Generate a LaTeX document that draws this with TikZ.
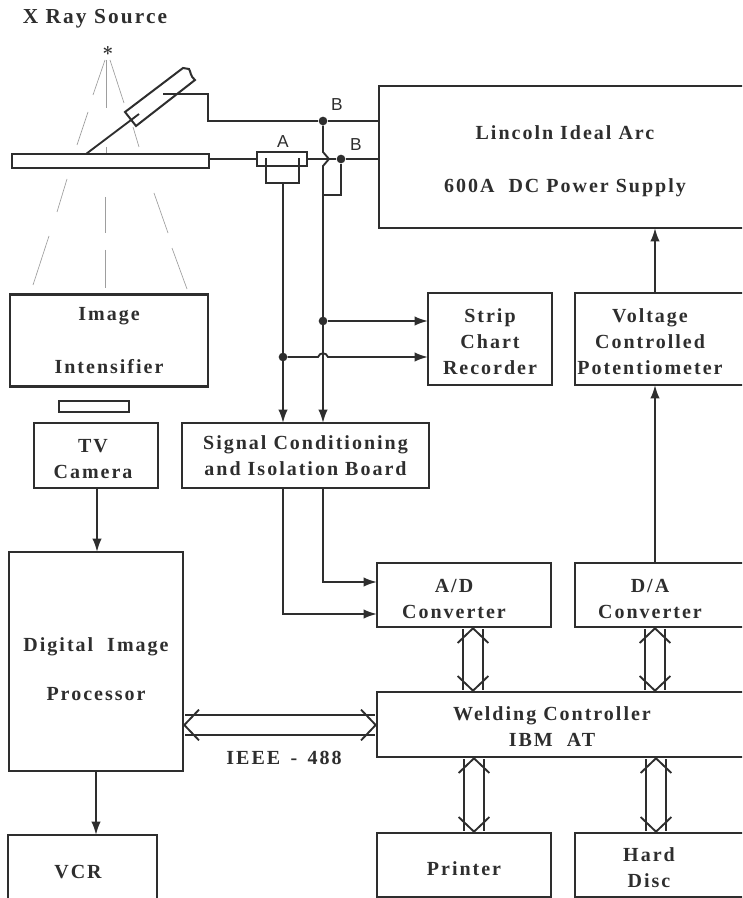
\documentclass[tikz,border=0pt]{standalone}
\usepackage{fontspec}
\setmainfont{Liberation Serif}[LetterSpace=10]
\newfontfamily\labelfont{Liberation Sans}
\usetikzlibrary{arrows.meta}
\definecolor{inkgray}{gray}{0.18}
\definecolor{beamgray}{gray}{0.62}

\tikzset{
    boxsize/.style 2 args={minimum width=#1*0.75pt, minimum height=#2*0.75pt},
    blockbox/.style={draw=inkgray, line width=1.7pt, inner sep=0pt, outer sep=0pt, align=center,
        text=inkgray, font=\bfseries\fontsize{15}{19.5}\selectfont},
    blocktext/.style={inner sep=0pt, align=center, text=inkgray, font=\bfseries\fontsize{15}{19.5}\selectfont},
    sanslabel/.style={inner sep=0pt, text=inkgray, font=\labelfont\fontsize{13}{15}\selectfont},
    wire/.style={draw=inkgray, line width=1.4pt},
    flow/.style={wire, -{Latex[length=10pt,width=7pt]}},
    busline/.style={draw=inkgray, line width=1.3pt, double, double distance=14pt,
        {Straight Barb[length=11pt,width=23pt,line width=1.4pt]}-{Straight Barb[length=11pt,width=23pt,line width=1.4pt]}},
    joint/.style={circle, fill=inkgray, inner sep=0pt, minimum size=6.5pt},
    beam/.style={draw=beamgray, line width=0.5pt}
}

\begin{document}
\begin{tikzpicture}[x=0.75pt,y=-0.75pt]

    \clip (0,0) rectangle (742,898);

    % Source and its beam
    \node[blocktext, font=\bfseries\fontsize{16}{18}\selectfont] (xray) at (95,19) {X Ray Source};
    \node[inner sep=0pt, text=inkgray, font=\Large\boldmath] (source) at (108,51) {$\ast$};
    \foreach \ax/\ay/\bx/\by in {105/60/93/95, 88/112/77/145, 67/179/57/212, 49/236/33/285,
        110/60/124/103, 133/127/139/147, 154/193/168/233, 172/248/187/289,
        106/60/106/108, 106/147/106/168, 105/197/105/233, 105/250/105/288}
        \draw[beam] (\ax,\ay) -- (\bx,\by);

    % Work piece and torch
    \node[blockbox, boxsize={197}{14}, fill=white] (plate) at (110.5,161) {};
    \draw[wire, line width=1.5pt, fill=white] (125,112) -- (136,126) -- (195,80)
        .. controls (190,76) and (191,72) .. (189,69) .. controls (187,68) and (185,69) .. (183,68) -- cycle;
    \coordinate (tiptop) at (139,114);
    \coordinate (tipbase) at (86,154);
    \draw[wire] (tipbase) -- (tiptop);

    % Boxes
    \node[blockbox, boxsize={372}{142}] (arc) at (565,157) {};
    \node[blocktext] (arctext) at (565,161) {Lincoln Ideal Arc\\[20.5pt]600A\ \ DC Power Supply};
    \node[blockbox, boxsize={198}{92}] (intens) at (109,340.5) {Image\\[20pt]Intensifier};
    \node[blockbox, boxsize={70}{11}, line width=1.3pt] (lens) at (94,406.5) {};
    \node[blockbox, boxsize={124}{65}] (tv) at (96,455.5) {};
    \node[blocktext] (tvtext) at (93,459) {TV\\Camera};
    \node[blockbox, boxsize={174}{219}] (dip) at (96,661.5) {};
    \node[blocktext] (diptext) at (96,669) {Digital\ \ Image\\[17pt]Processor};
    \node[blockbox, boxsize={149}{70}] (vcr) at (82.5,870) {};
    \node[blocktext] (vcrtext) at (78,872) {VCR};
    \node[blockbox, boxsize={124}{92}] (strip) at (490,339) {};
    \node[blocktext] (striptext) at (490,342) {Strip\\Chart\\Recorder};
    \node[blockbox, boxsize={190}{92}] (pot) at (670,339) {};
    \node[blocktext] (pottext) at (650,342) {Voltage\\Controlled\\Potentiometer};
    \node[blockbox, boxsize={247}{65}] (sig) at (305.5,455.5) {Signal Conditioning\\and Isolation Board};
    \node[blockbox, boxsize={174}{64}] (adc) at (464,595) {};
    \node[blocktext] (adctext) at (454,599) {A/D\\Converter};
    \node[blockbox, boxsize={190}{64}] (dac) at (670,595) {};
    \node[blocktext] (dactext) at (650,599) {D/A\\Converter};
    \node[blockbox, boxsize={390}{65}] (ctrl) at (572,724.5) {};
    \node[blocktext] (ctrltext) at (552,727) {Welding Controller\\IBM\ \ AT};
    \node[blockbox, boxsize={174}{64}] (printer) at (464,865) {};
    \node[blocktext] (printertext) at (464,869) {Printer};
    \node[blockbox, boxsize={190}{64}] (disc) at (670,865) {};
    \node[blocktext] (disctext) at (649,868) {Hard\\Disc};
    \node[blocktext] (ieee) at (284,758) {IEEE\ \,-\ \,488};

    % Shunt block
    \node[blockbox, boxsize={50}{14}, line width=1.4pt] (shunt) at (282,159) {};
    \node[sanslabel] (shuntlabel) at (283,142) {A};
    \draw[wire] (266,158) |- (299,183) -- (299,158);

    % Taps
    \coordinate (ax) at (283,0);
    \coordinate (bx) at (323,0);
    \coordinate (shuntout) at (283,183);
    \node[joint] (btop) at (323,121) {};
    \node[joint] (bmid) at (341,159) {};
    \node[joint] (btap) at (323,321) {};
    \node[joint] (atap) at (283,357) {};
    \node[sanslabel] (btoplabel) at (337,105) {B};
    \node[sanslabel] (bmidlabel) at (356,145) {B};
    \coordinate (torchin) at (163,94);
    \coordinate (torchbend) at (208,94);
    \coordinate (adinb) at (377,582);
    \coordinate (adina) at (377,614);

    % Welding circuit
    \draw[wire] (torchin) -- (torchbend) -- (208,121) -- (btop) -- (arc.west |- btop);
    \draw[wire] (plate.east |- shunt.west) -- (shunt.west);
    \draw[wire] (shunt.east) -- (bmid) -- (arc.west |- bmid);
    \draw[wire] (btop) -- (323,152) -- (329,159) -- (323,166) -- (323,196);
    \draw[wire] (bmid) -- (341,195) -- (323,195);
    \draw[flow] (shuntout) -- (sig.north -| ax);
    \draw[flow] (323,166) -- (sig.north -| bx);

    % Recorder lines
    \draw[flow] (btap) -- (btap -| strip.west);
    \draw[flow] (atap) -- (318,357) .. controls (320,352) and (326,352) .. (328,357) -- (atap -| strip.west);

    % Converter lines
    \draw[flow] (sig.south -| bx) |- (adinb);
    \draw[flow] (sig.south -| ax) |- (adina);
    \draw[flow] (tv.south -| 97,0) -- (dip.north -| 97,0);
    \draw[flow] (dip.south -| 96,0) -- (vcr.north -| 96,0);
    \draw[flow] (dac.north -| 655,0) -- (pot.south -| 655,0);
    \draw[flow] (pot.north -| 655,0) -- (arc.south -| 655,0);

    % Data buses
    \draw[busline] (dip.east |- 0,725) -- (ctrl.west |- 0,725);
    \draw[busline] (adc.south -| 473,0) -- (ctrl.north -| 473,0);
    \draw[busline] (dac.south -| 655,0) -- (ctrl.north -| 655,0);
    \draw[busline] (ctrl.south -| 474,0) -- (printer.north -| 474,0);
    \draw[busline] (ctrl.south -| 656,0) -- (disc.north -| 656,0);

\end{tikzpicture}
\end{document}
